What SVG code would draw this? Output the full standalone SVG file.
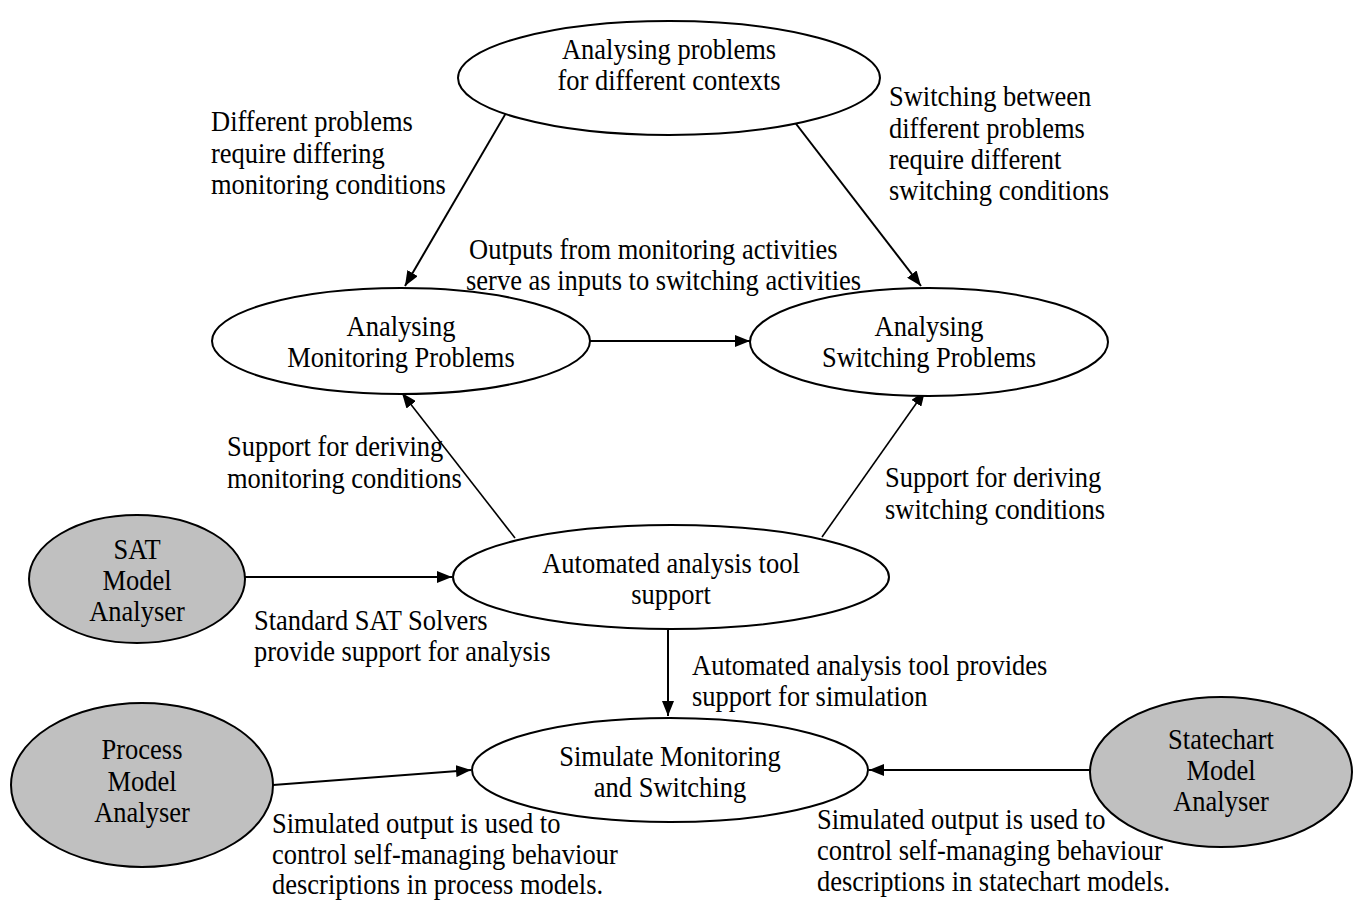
<svg xmlns="http://www.w3.org/2000/svg" width="1359" height="901" viewBox="0 0 1359 901">
  <style>
    text { font-family: "Liberation Serif", "Times New Roman", serif; font-size: 26.5px; fill: #000; }
    .c { text-anchor: middle; }
    .node { fill: #fff; stroke: #000; stroke-width: 2; }
    .tool { fill: #c0c0c0; stroke: #000; stroke-width: 2; }
    .edge { stroke: #000; stroke-width: 2; fill: none; marker-end: url(#arrow); }
    .thin { stroke-width: 1.6; }
  </style>
  <defs>
    <marker id="arrow" viewBox="0 0 15 12" refX="15" refY="6" markerWidth="15" markerHeight="12" markerUnits="userSpaceOnUse" orient="auto">
      <path d="M0,0 L15,6 L0,12 z" fill="#000"/>
    </marker>
  </defs>
  <rect width="1359" height="901" fill="#fff"/>

  <g id="connectors">
    <line class="edge" x1="513" y1="101" x2="405" y2="286"/>
    <line class="edge" x1="780" y1="103" x2="921" y2="286"/>
    <line class="edge" x1="590" y1="341" x2="750" y2="341"/>
    <line class="edge thin" x1="515" y1="538" x2="402" y2="393"/>
    <line class="edge thin" x1="822" y1="537" x2="925" y2="391"/>
    <line class="edge" x1="245" y1="577" x2="452" y2="577"/>
    <line class="edge" x1="668" y1="630" x2="668" y2="716"/>
    <line class="edge" x1="273" y1="785" x2="471" y2="770"/>
    <line class="edge" x1="1091" y1="770" x2="869" y2="770"/>
  </g>

  <!-- labels use a slightly tall serif: each line is placed by translate(x baseline) -->
  <g id="edge-labels">
    <text transform="translate(211 131) scale(1 1.12)">Different problems</text>
    <text transform="translate(211 163) scale(1 1.12)">require differing</text>
    <text transform="translate(211 194) scale(1 1.12)">monitoring conditions</text>
    <text transform="translate(889 106) scale(1 1.12)">Switching between</text>
    <text transform="translate(889 138) scale(1 1.12)">different problems</text>
    <text transform="translate(889 169) scale(1 1.12)">require different</text>
    <text transform="translate(889 200) scale(1 1.12)">switching conditions</text>
    <text transform="translate(469 259) scale(1 1.12)">Outputs from monitoring activities</text>
    <text transform="translate(466 290) scale(1 1.12)">serve as inputs to switching activities</text>
    <text transform="translate(227 456) scale(1 1.12)">Support for deriving</text>
    <text transform="translate(227 488) scale(1 1.12)">monitoring conditions</text>
    <text transform="translate(885 487) scale(1 1.12)">Support for deriving</text>
    <text transform="translate(885 519) scale(1 1.12)">switching conditions</text>
    <text transform="translate(254 630) scale(1 1.12)">Standard SAT Solvers</text>
    <text transform="translate(254 661) scale(1 1.12)">provide support for analysis</text>
    <text transform="translate(692 675) scale(1 1.12)">Automated analysis tool provides</text>
    <text transform="translate(692 706) scale(1 1.12)">support for simulation</text>
    <text transform="translate(272 833) scale(1 1.12)">Simulated output is used to</text>
    <text transform="translate(272 864) scale(1 1.12)">control self-managing behaviour</text>
    <text transform="translate(272 894) scale(1 1.12)">descriptions in process models.</text>
    <text transform="translate(817 829) scale(1 1.12)">Simulated output is used to</text>
    <text transform="translate(817 860) scale(1 1.12)">control self-managing behaviour</text>
    <text transform="translate(817 891) scale(1 1.12)">descriptions in statechart models.</text>
  </g>

  <g id="contexts">
    <ellipse class="node" cx="669" cy="78" rx="211" ry="57"/>
    <text class="c" transform="translate(669 59) scale(1 1.12)">Analysing problems</text>
    <text class="c" transform="translate(669 90) scale(1 1.12)">for different contexts</text>
  </g>

  <g id="monitoring">
    <ellipse class="node" cx="401" cy="341" rx="189" ry="53"/>
    <text class="c" transform="translate(401 336) scale(1 1.12)">Analysing</text>
    <text class="c" transform="translate(401 367) scale(1 1.12)">Monitoring Problems</text>
  </g>

  <g id="switching">
    <ellipse class="node" cx="929" cy="342" rx="179" ry="54"/>
    <text class="c" transform="translate(929 336) scale(1 1.12)">Analysing</text>
    <text class="c" transform="translate(929 367) scale(1 1.12)">Switching Problems</text>
  </g>

  <g id="automated">
    <ellipse class="node" cx="671" cy="577" rx="218" ry="52"/>
    <text class="c" transform="translate(671 573) scale(1 1.12)">Automated analysis tool</text>
    <text class="c" transform="translate(671 604) scale(1 1.12)">support</text>
  </g>

  <g id="sat">
    <ellipse class="tool" cx="137" cy="579" rx="108" ry="64"/>
    <text class="c" transform="translate(137 559) scale(1 1.12)">SAT</text>
    <text class="c" transform="translate(137 590) scale(1 1.12)">Model</text>
    <text class="c" transform="translate(137 621) scale(1 1.12)">Analyser</text>
  </g>

  <g id="simulate">
    <ellipse class="node" cx="670" cy="770" rx="198" ry="52"/>
    <text class="c" transform="translate(670 766) scale(1 1.12)">Simulate Monitoring</text>
    <text class="c" transform="translate(670 797) scale(1 1.12)">and Switching</text>
  </g>

  <g id="process">
    <ellipse class="tool" cx="142" cy="785" rx="131" ry="82"/>
    <text class="c" transform="translate(142 759) scale(1 1.12)">Process</text>
    <text class="c" transform="translate(142 791) scale(1 1.12)">Model</text>
    <text class="c" transform="translate(142 822) scale(1 1.12)">Analyser</text>
  </g>

  <g id="statechart">
    <ellipse class="tool" cx="1221" cy="772" rx="131" ry="75"/>
    <text class="c" transform="translate(1221 749) scale(1 1.12)">Statechart</text>
    <text class="c" transform="translate(1221 780) scale(1 1.12)">Model</text>
    <text class="c" transform="translate(1221 811) scale(1 1.12)">Analyser</text>
  </g>
</svg>
